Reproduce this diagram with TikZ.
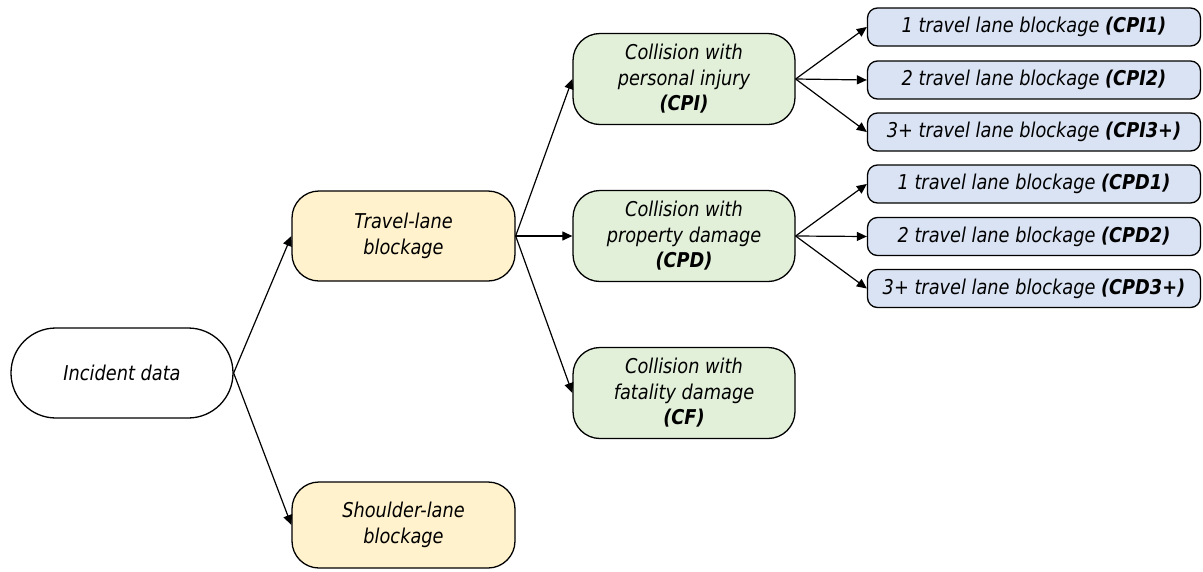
\documentclass[tikz,border=0pt]{standalone}
\usepackage{fontspec}
\setmainfont{DejaVu Sans}[FakeStretch=0.87]
\usetikzlibrary{arrows.meta}
\definecolor{laneyellow}{HTML}{FFF2CC}
\definecolor{collgreen}{HTML}{E2F0D9}
\definecolor{blockblue}{HTML}{DAE3F3}
\tikzset{
  box/.style={draw=black, line width=1.3pt, align=center, inner sep=0pt,
    font=\fontsize{20.4}{25.5}\selectfont\itshape},
  startbox/.style={box, fill=white, minimum width=222pt, minimum height=90pt, rounded corners=44.9pt},
  lanebox/.style={box, fill=laneyellow, minimum width=223pt, minimum height=90pt, rounded corners=27pt},
  collbox/.style={box, fill=collgreen, minimum width=222pt, minimum height=91pt, rounded corners=27pt},
  blkbox/.style={box, fill=blockblue, minimum width=333pt, minimum height=38pt, rounded corners=10pt},
  link/.style={line width=1.2pt, -{Triangle[length=10pt,width=9pt]}}
}
\begin{document}
\begin{tikzpicture}[x=1pt, y=-1pt]
\useasboundingbox (0,0) rectangle (1203,571);

% root
\node[startbox] (inc) at (122,373) {Incident data};

% lane type
\node[lanebox] (travel) at (403.5,236) {Travel-lane\\blockage};
\node[lanebox, minimum height=86pt] (shoulder) at (403.5,525) {Shoulder-lane\\blockage};

% collision type
\node[collbox] (cpi) at (684,79) {Collision with\\personal injury\\\textbf{(CPI)}};
\node[collbox] (cpd) at (684,236) {Collision with\\property damage\\\textbf{(CPD)}};
\node[collbox] (cf) at (684,393) {Collision with\\fatality damage\\\textbf{(CF)}};

% number of blocked lanes
\node[blkbox] (cpi1) at (1034,27) {1 travel lane blockage \textbf{(CPI1)}};
\node[blkbox] (cpi2) at (1034,80) {2 travel lane blockage \textbf{(CPI2)}};
\node[blkbox] (cpi3) at (1034,132) {3+ travel lane blockage \textbf{(CPI3+)}};
\node[blkbox] (cpd1) at (1034,184) {1 travel lane blockage \textbf{(CPD1)}};
\node[blkbox] (cpd2) at (1034,236.5) {2 travel lane blockage \textbf{(CPD2)}};
\node[blkbox] (cpd3) at (1034,288.5) {3+ travel lane blockage \textbf{(CPD3+)}};

% connectors
\draw[link] (inc.east) -- (travel.west);
\draw[link] (inc.east) -- (shoulder.west);
\draw[link] (travel.east) -- (cpi.west);
\draw[link] (travel.east) -- (cpd.west);
\draw[link] (travel.east) -- (cf.west);
\draw[link] (cpi.east) -- (cpi1.west);
\draw[link] (cpi.east) -- (cpi2.west);
\draw[link] (cpi.east) -- (cpi3.west);
\draw[link] (cpd.east) -- (cpd1.west);
\draw[link] (cpd.east) -- (cpd2.west);
\draw[link] (cpd.east) -- (cpd3.west);
\end{tikzpicture}
\end{document}
